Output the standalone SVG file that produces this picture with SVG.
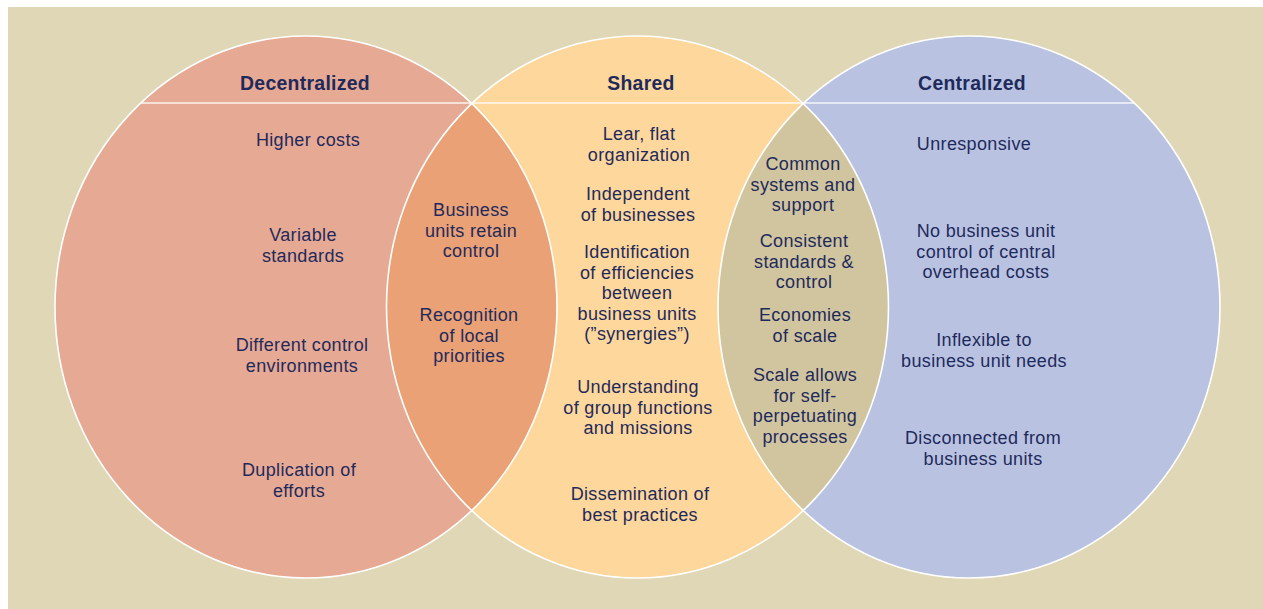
<svg xmlns="http://www.w3.org/2000/svg" width="1263" height="609" viewBox="0 0 1263 609">
  <style>
    .t { font-family: "Liberation Sans", Arial, sans-serif; font-size: 18px; letter-spacing: 0.35px; fill: #1f2a5c; text-anchor: middle; }
    .h { font-weight: bold; font-size: 19.4px; letter-spacing: 0.3px; }
    .rim { fill: none; stroke: #ffffff; stroke-width: 1.6; }
  </style>
  <defs>
    <ellipse id="eL" cx="306" cy="307" rx="251" ry="271"/>
    <ellipse id="eM" cx="637.5" cy="307" rx="251" ry="271"/>
    <ellipse id="eR" cx="969" cy="307" rx="251" ry="271"/>
    <clipPath id="clipL"><use href="#eL"/></clipPath>
    <clipPath id="clipR"><use href="#eR"/></clipPath>
  </defs>

  <!-- page -->
  <rect x="0" y="0" width="1263" height="609" fill="#ffffff"/>
  <rect x="8" y="7" width="1255" height="602" fill="#e0d7b6"/>

  <!-- set fills -->
  <g id="decentralized">
    <use href="#eL" fill="#e6a993"/>
  </g>
  <g id="shared">
    <use href="#eM" fill="#fdd79b"/>
  </g>
  <g id="centralized">
    <use href="#eR" fill="#b9c3e1"/>
  </g>
  <!-- overlaps: shared set clipped to each neighbour -->
  <g id="overlap-left">
    <use href="#eM" fill="#e9a175" clip-path="url(#clipL)"/>
  </g>
  <g id="overlap-right">
    <use href="#eM" fill="#d0c59e" clip-path="url(#clipR)"/>
  </g>

  <!-- outlines and heading rule -->
  <g id="connectors">
    <use href="#eL" class="rim"/>
    <use href="#eM" class="rim"/>
    <use href="#eR" class="rim"/>
    <line x1="141" y1="103" x2="1134" y2="103" stroke="#ffffff" stroke-width="1.4" stroke-opacity="0.85"/>
  </g>

  <!-- labels -->
  <g id="decentralized-text">
    <text x="305" y="90" class="t h">Decentralized</text>
    <text x="308" y="146" class="t">Higher costs</text>
    <text x="303" y="241" class="t"><tspan x="303">Variable</tspan><tspan x="303" dy="21">standards</tspan></text>
    <text x="302" y="351" class="t"><tspan x="302">Different control</tspan><tspan x="302" dy="21">environments</tspan></text>
    <text x="299" y="476" class="t"><tspan x="299">Duplication of</tspan><tspan x="299" dy="21">efforts</tspan></text>
  </g>
  <g id="overlap-left-text">
    <text x="471" y="216" class="t"><tspan x="471">Business</tspan><tspan x="471" dy="20.5">units retain</tspan><tspan x="471" dy="20.5">control</tspan></text>
    <text x="469" y="321" class="t"><tspan x="469">Recognition</tspan><tspan x="469" dy="20.5">of local</tspan><tspan x="469" dy="20.5">priorities</tspan></text>
  </g>
  <g id="shared-text">
    <text x="641" y="90" class="t h">Shared</text>
    <text x="639" y="140" class="t"><tspan x="639">Lear, flat</tspan><tspan x="639" dy="20.5">organization</tspan></text>
    <text x="638" y="200" class="t"><tspan x="638">Independent</tspan><tspan x="638" dy="20.5">of businesses</tspan></text>
    <text x="637" y="258" class="t"><tspan x="637">Identification</tspan><tspan x="637" dy="20.5">of efficiencies</tspan><tspan x="637" dy="20.5">between</tspan><tspan x="637" dy="20.5">business units</tspan><tspan x="637" dy="20.5">(”synergies”)</tspan></text>
    <text x="638" y="393" class="t"><tspan x="638">Understanding</tspan><tspan x="638" dy="20.5">of group functions</tspan><tspan x="638" dy="20.5">and missions</tspan></text>
    <text x="640" y="500" class="t"><tspan x="640">Dissemination of</tspan><tspan x="640" dy="21">best practices</tspan></text>
  </g>
  <g id="overlap-right-text">
    <text x="803" y="170" class="t"><tspan x="803">Common</tspan><tspan x="803" dy="20.5">systems and</tspan><tspan x="803" dy="20.5">support</tspan></text>
    <text x="804" y="247" class="t"><tspan x="804">Consistent</tspan><tspan x="804" dy="20.5">standards &amp;</tspan><tspan x="804" dy="20.5">control</tspan></text>
    <text x="805" y="321" class="t"><tspan x="805">Economies</tspan><tspan x="805" dy="20.5">of scale</tspan></text>
    <text x="805" y="381" class="t"><tspan x="805">Scale allows</tspan><tspan x="805" dy="20.5">for self-</tspan><tspan x="805" dy="20.8">perpetuating</tspan><tspan x="805" dy="20.8">processes</tspan></text>
  </g>
  <g id="centralized-text">
    <text x="972" y="90" class="t h">Centralized</text>
    <text x="974" y="150" class="t">Unresponsive</text>
    <text x="986" y="237" class="t"><tspan x="986">No business unit</tspan><tspan x="986" dy="20.5">control of central</tspan><tspan x="986" dy="20.5">overhead costs</tspan></text>
    <text x="984" y="346" class="t"><tspan x="984">Inflexible to</tspan><tspan x="984" dy="20.5">business unit needs</tspan></text>
    <text x="983" y="444" class="t"><tspan x="983">Disconnected from</tspan><tspan x="983" dy="20.5">business units</tspan></text>
  </g>
</svg>
